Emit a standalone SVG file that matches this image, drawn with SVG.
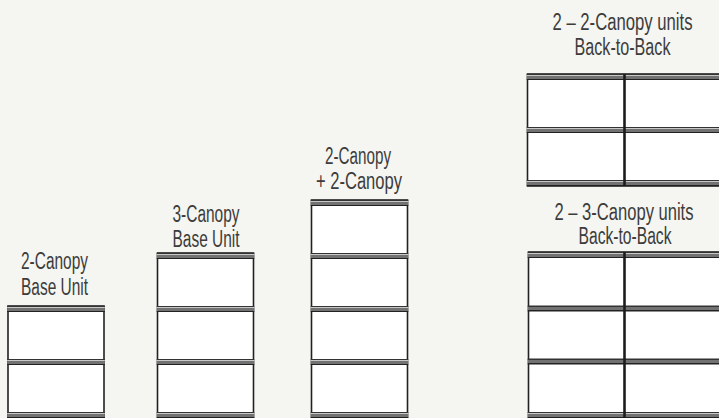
<svg xmlns="http://www.w3.org/2000/svg" width="719" height="418" viewBox="0 0 719 418">
  <defs>
    <linearGradient id="bandFill" x1="0" y1="0" x2="0" y2="1">
      <stop offset="0" stop-color="#333"/>
      <stop offset="0.17" stop-color="#333"/>
      <stop offset="0.17" stop-color="#c8c8c8"/>
      <stop offset="0.3" stop-color="#c8c8c8"/>
      <stop offset="0.3" stop-color="#727272"/>
      <stop offset="0.83" stop-color="#727272"/>
      <stop offset="0.83" stop-color="#222"/>
      <stop offset="1" stop-color="#222"/>
    </linearGradient>
    <style>
      .bg { fill: #f5f5f1; }
      .box { fill: #ffffff; stroke: #222; stroke-width: 1.6; }
      .band { fill: url(#bandFill); }
      .mid { stroke: #1c1c1c; stroke-width: 2.6; }
      .lbl { font-family: "Liberation Sans Narrow", "Liberation Sans", Arial, sans-serif; font-size: 23.5px; fill: #3c3c3c; text-anchor: middle; }
    </style>
  </defs>
  <rect class="bg" x="0" y="0" width="719" height="418"/>

  <g id="connectors"/>

  <g id="unit-2canopy-base">
    <text class="lbl" x="54.5" y="269" textLength="67" lengthAdjust="spacingAndGlyphs">2-Canopy</text>
    <text class="lbl" x="54.5" y="294.5" textLength="67" lengthAdjust="spacingAndGlyphs">Base Unit</text>
    <rect class="box" x="8" y="306" width="96" height="116"/>
    <rect class="band" x="7.2" y="306" width="97.6" height="6"/>
    <rect class="band" x="7.2" y="359" width="97.6" height="6"/>
    <rect class="band" x="7.2" y="412" width="97.6" height="6"/>
  </g>

  <g id="unit-3canopy-base">
    <text class="lbl" x="206" y="221.5" textLength="67" lengthAdjust="spacingAndGlyphs">3-Canopy</text>
    <text class="lbl" x="206" y="246.5" textLength="67" lengthAdjust="spacingAndGlyphs">Base Unit</text>
    <rect class="box" x="157.5" y="253" width="96" height="169"/>
    <rect class="band" x="156.7" y="253" width="97.6" height="6"/>
    <rect class="band" x="156.7" y="306" width="97.6" height="6"/>
    <rect class="band" x="156.7" y="359" width="97.6" height="6"/>
    <rect class="band" x="156.7" y="412" width="97.6" height="6"/>
  </g>

  <g id="unit-2plus2">
    <text class="lbl" x="358" y="164" textLength="66" lengthAdjust="spacingAndGlyphs">2-Canopy</text>
    <text class="lbl" x="359" y="188.5" textLength="86" lengthAdjust="spacingAndGlyphs">+ 2-Canopy</text>
    <rect class="box" x="311.5" y="200" width="96" height="222"/>
    <rect class="band" x="310.7" y="200" width="97.6" height="6"/>
    <rect class="band" x="310.7" y="253" width="97.6" height="6"/>
    <rect class="band" x="310.7" y="306" width="97.6" height="6"/>
    <rect class="band" x="310.7" y="359" width="97.6" height="6"/>
    <rect class="band" x="310.7" y="412" width="97.6" height="6"/>
  </g>

  <g id="unit-2x2canopy-b2b">
    <text class="lbl" x="622.5" y="29.5" textLength="140" lengthAdjust="spacingAndGlyphs">2 – 2-Canopy units</text>
    <text class="lbl" x="622.5" y="55" textLength="96" lengthAdjust="spacingAndGlyphs">Back-to-Back</text>
    <rect class="box" x="527.5" y="74" width="210" height="112"/>
    <rect class="band" x="526.7" y="74" width="212" height="6"/>
    <rect class="band" x="526.7" y="127" width="212" height="6"/>
    <rect class="band" x="526.7" y="180" width="212" height="6"/>
    <line class="mid" x1="624.5" y1="74" x2="624.5" y2="186"/>
  </g>

  <g id="unit-2x3canopy-b2b">
    <text class="lbl" x="624" y="219.5" textLength="139" lengthAdjust="spacingAndGlyphs">2 – 3-Canopy units</text>
    <text class="lbl" x="625" y="244" textLength="93" lengthAdjust="spacingAndGlyphs">Back-to-Back</text>
    <rect class="box" x="528.5" y="252" width="210" height="170"/>
    <rect class="band" x="527.7" y="252" width="212" height="6"/>
    <rect class="band" x="527.7" y="305.5" width="212" height="6"/>
    <rect class="band" x="527.7" y="358.5" width="212" height="6"/>
    <rect class="band" x="527.7" y="412" width="212" height="6"/>
    <line class="mid" x1="624.5" y1="252" x2="624.5" y2="418"/>
  </g>
</svg>
